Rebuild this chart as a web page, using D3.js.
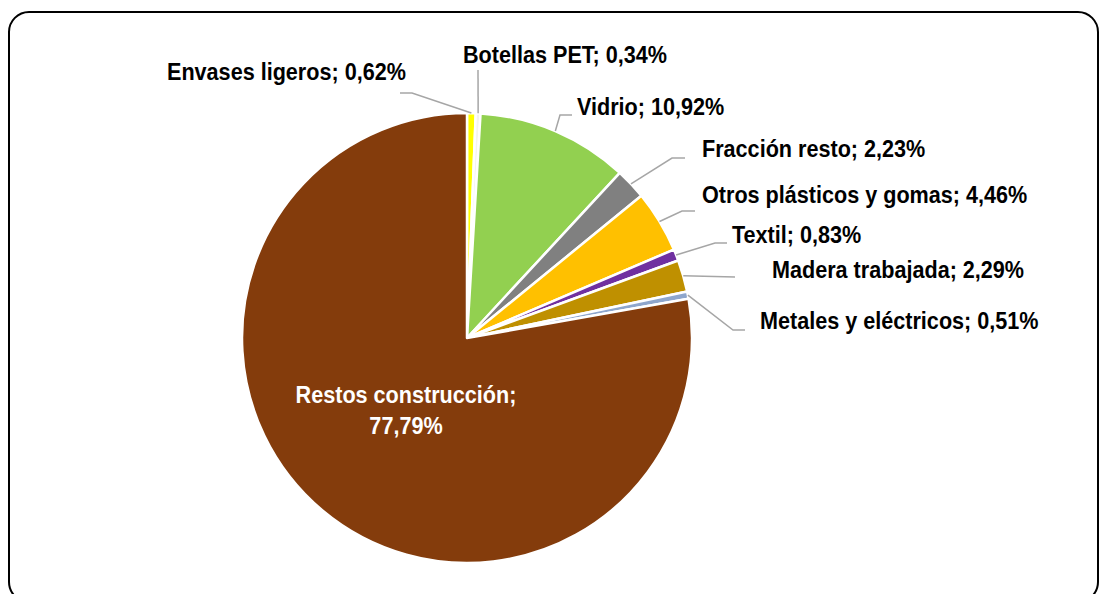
<!DOCTYPE html>
<html>
<head>
<meta charset="utf-8">
<script src="https://cdn.jsdelivr.net/npm/d3@7"></script>
<style>
  html, body { margin: 0; padding: 0; background: #fff; }
  svg { display: block; }
  .lbl { font-family: "Liberation Sans", Arial, sans-serif; font-weight: bold; font-size: 24px; }
</style>
</head>
<body>
<script>
// values, clockwise from 12 o'clock
const categories = ["Envases ligeros", "Botellas PET", "Vidrio", "Fracción resto",
  "Otros plásticos y gomas", "Textil", "Madera trabajada", "Metales y eléctricos", "Restos construcción"]
const values = [0.62, 0.34, 10.92, 2.23, 4.46, 0.83, 2.29, 0.51, 77.79]
const colors = ["#FFFF00", "#F4F4EC", "#92D050", "#808080", "#FFC000", "#7030A0", "#BF9000", "#8EA6CC", "#843C0C"]

const width = 1099, height = 594
const cx = 467, cy = 338, radius = 225
const squeeze = 0.9   // labels in the original use a condensed face

// label layout: text start + baseline, leader elbow and end (null = label inside)
const labelLayout = [
  {x: 167, y: 80,  pts: [[412, 93], [400, 93]]},
  {x: 463, y: 63,  pts: [[478, 70]]},
  {x: 577, y: 115, pts: [[560, 115], [572, 115]]},
  {x: 702, y: 157, pts: [[672, 158], [685, 158]]},
  {x: 702, y: 203, pts: [[682, 211], [695, 211]]},
  {x: 732, y: 243, pts: [[715, 243], [727, 243]]},
  {x: 772, y: 278, pts: [[735, 277]]},
  {x: 760, y: 329, pts: [[733, 330], [745, 330]]},
  null
]

const fmt = v => d3.format(".2f")(v).replace(".", ",") + "%"

const svg = d3.select("body").append("svg")
  .attr("width", width)
  .attr("height", height)

svg.append("rect")
  .attr("x", 9).attr("y", 12)
  .attr("width", 1089).attr("height", 590)
  .attr("rx", 20).attr("ry", 20)
  .attr("fill", "#fff")
  .attr("stroke", "#000")
  .attr("stroke-width", 2)

const pie = d3.pie().sort(null).value(d => d)
const arcs = pie(values)
const arc = d3.arc().innerRadius(0).outerRadius(radius)
const edge = d3.arc().innerRadius(radius).outerRadius(radius)

const g = svg.append("g").attr("transform", `translate(${cx},${cy})`)

g.selectAll("path.slice")
  .data(arcs)
  .join("path")
  .attr("class", "slice")
  .attr("d", arc)
  .attr("fill", (d, i) => colors[i])
  .attr("stroke", "#fff")
  .attr("stroke-width", 2.5)
  .attr("stroke-linejoin", "round")

// leader lines
const leaders = svg.append("g")
arcs.forEach((d, i) => {
  const lay = labelLayout[i]
  if (!lay) return
  const c = edge.centroid(d)
  const pts = [[cx + c[0], cy + c[1]]].concat(lay.pts)
  leaders.append("path")
    .attr("d", d3.line()(pts))
    .attr("fill", "none")
    .attr("stroke", "#A6A6A6")
    .attr("stroke-width", 1.5)
})

// outside labels
svg.append("g").selectAll("text")
  .data(arcs.filter((d, i) => labelLayout[i]))
  .join("text")
  .attr("class", "lbl")
  .attr("transform", d => `translate(${labelLayout[d.index].x},${labelLayout[d.index].y}) scale(${squeeze},1)`)
  .attr("fill", "#000")
  .text(d => categories[d.index] + "; " + fmt(values[d.index]))

// big slice label inside
const big = svg.append("text")
  .attr("class", "lbl")
  .attr("fill", "#fff")
  .attr("text-anchor", "middle")
  .attr("transform", `translate(406,0) scale(${squeeze},1)`)
big.append("tspan").attr("x", 0).attr("y", 403).text(categories[8] + ";")
big.append("tspan").attr("x", 0).attr("y", 434).text(fmt(values[8]))
</script>
</body>
</html>
